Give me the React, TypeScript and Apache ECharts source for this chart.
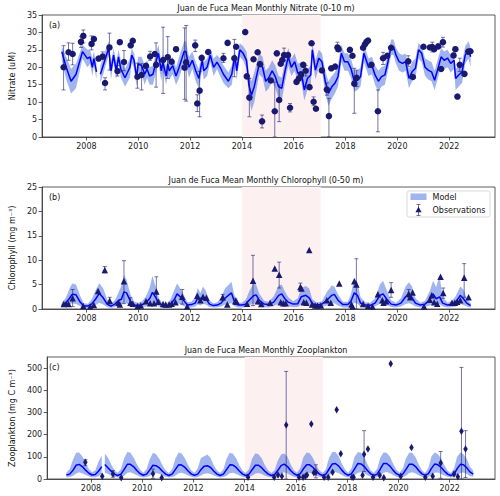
import React, { useEffect, useRef } from 'react';
import * as echarts from 'echarts';

const FONT = 'DejaVu Sans';
const BAND = 'rgba(65,105,225,0.5)';
const LINE = '#0000ff';
const OBS = '#191970';
const ERR = 'rgba(25,25,112,0.6)';
const PINK = '#fdf0f0';

// ---------------- Nitrate (panel a) ----------------
const nitYears = [
  2007.05, 2007.22, 2007.41, 2007.6, 2007.85,
  2008.04, 2008.14, 2008.23, 2008.29, 2008.39, 2008.46, 2008.54, 2008.67, 2008.86, 2008.95,
  2009.05, 2009.15, 2009.24, 2009.33, 2009.49, 2009.68, 2009.75, 2009.84, 2009.94,
  2010.0, 2010.13, 2010.25, 2010.34, 2010.44, 2010.57, 2010.7, 2010.78, 2010.89, 2010.95,
  2011.08, 2011.14, 2011.2, 2011.33, 2011.46, 2011.58, 2011.77, 2011.84, 2011.96,
  2012.09, 2012.22, 2012.34, 2012.47, 2012.53, 2012.66, 2012.78, 2012.91,
  2013.04, 2013.16, 2013.29, 2013.48, 2013.61, 2013.73, 2013.8, 2013.86, 2013.92,
  2014.05, 2014.18, 2014.27, 2014.37, 2014.48, 2014.67, 2014.8, 2014.92,
  2015.04, 2015.17, 2015.29, 2015.42, 2015.54, 2015.66, 2015.79, 2015.91,
  2016.04, 2016.16, 2016.29, 2016.41, 2016.53, 2016.66, 2016.72, 2016.84, 2016.97,
  2017.09, 2017.22, 2017.34, 2017.47, 2017.59, 2017.71, 2017.84, 2017.96,
  2018.09, 2018.21, 2018.34, 2018.46, 2018.58, 2018.71, 2018.89,
  2019.02, 2019.14, 2019.27, 2019.39, 2019.52, 2019.64, 2019.76, 2019.85, 2019.95,
  2020.07, 2020.2, 2020.32, 2020.45, 2020.57, 2020.7, 2020.82, 2020.94,
  2021.07, 2021.19, 2021.32, 2021.44, 2021.57, 2021.69, 2021.81, 2021.94,
  2022.06, 2022.19, 2022.25, 2022.37, 2022.5, 2022.62, 2022.75, 2022.83,
];
const nitModel = [
  24.5, 20, 16, 18, 24.5,
  22.5, 23, 20, 22.5, 18.7, null, 18, 21, 25.5, 19,
  23.5, 19, 23, 19.5, 17, 20, 23.5, 22, 17,
  21, 20.5, 18, 19.5, 17.5, 18, 22, 24, 19, 21.5,
  17.5, 21, 19, 20.5, 17.5, 20, 24.5, 24.5, 20,
  22, 19, 16.8, 22, 19, 20, 23.5, 20,
  21.5, 20, 18, 16, 18, 23.5, 19, 22, 25,
  24, 22, 15, 12, 14.5, 21, 20, 16,
  17, 19, 17.3, 14.4, 14, 18.7, 23, 20,
  21.6, 18.3, 18.7, 13.5, 16.8, 17.8, 25, 19.2, 22.6,
  21.6, 15.9, 12.5, 14.4, 15.4, 17.3, 24, 21.6,
  21.6, 19.7, 16, 16.3, 17.3, 24, 20,
  20.6, 17.8, 16, 17.3, 17.8, 21.6, 25.9, 25.9, 23.5,
  21.6, 21.1, 21.6, 16.8, 18.7, 19.7, 25, 24,
  20, 19.2, 18.7, 16.3, 19.7, 23, 22, 22.6,
  21.1, 22, 16.8, 17.8, 18.7, 23.5, 25, 23,
];
const nitLo = [
  22, 16.5, 12.5, 14, 22.5,
  20, 21, 17.5, 20.5, 16.5, null, 15.5, 18.5, 23.5, 16.5,
  21.5, 16.5, 21, 17, 14.5, 17, 21.5, 19.5, 14.5,
  18.5, 18, 15, 17, 15, 15, 19, 21.5, 16, 19,
  15, 18.5, 16.5, 18, 15, 17, 21.5, 21, 17,
  19.5, 16, 14, 19.5, 16.5, 17.5, 21.5, 17.5,
  19.5, 17.5, 15.5, 14, 15, 21, 16.5, 19.5, 23,
  22, 19.5, 11.5, 7.5, 10, 18, 17, 13,
  14, 16, 14, 11, 10.5, 15.5, 20.5, 17.5,
  19, 15.5, 16, 10.5, 13.5, 15, 22.5, 16.5, 20,
  19, 12.5, 9, 11, 12.5, 14.5, 21.5, 19,
  19, 17, 13, 13.5, 14.5, 21.5, 17.5,
  18, 15, 13, 14.5, 15, 19, 23.5, 23.5, 21,
  19, 18.5, 19, 14, 16, 17, 22.5, 21.5,
  17.5, 16.5, 16, 13.5, 17, 20.5, 19.5, 20,
  18.5, 19.5, 13.5, 14.5, 15.5, 21, 22.5, 20,
];
const nitHi = [
  26, 23, 19.5, 21, 26.5,
  25, 25, 22.5, 24.5, 21, null, 20.5, 23.5, 27.5, 21.5,
  25.5, 21.5, 25, 22, 19.5, 22.5, 25.5, 24, 19.5,
  23, 23, 20.5, 22, 20, 20.5, 24.5, 26.5, 21.5, 24,
  20, 23.5, 21.5, 23, 20, 23, 27.5, 27.5, 23,
  24.5, 21.5, 19.5, 24, 21.5, 22.5, 25.5, 22.5,
  23.5, 22.5, 20.5, 18.5, 20.5, 25.5, 21.5, 24.5, 27,
  26, 24.5, 18.5, 16, 18.5, 24, 23, 19,
  20, 22, 20.5, 17.5, 17, 21.5, 25.5, 22.5,
  24, 21, 21.5, 17, 19.5, 20.5, 27, 22, 25,
  24, 19, 16, 17.5, 18.5, 20.5, 26.5, 24,
  24, 22.5, 19, 19, 20, 26.5, 22.5,
  23, 20.5, 19, 20, 20.5, 24, 28, 28, 25.5,
  24, 23.5, 24, 19.5, 21.5, 22.5, 27, 26,
  22.5, 22, 21.5, 19, 22.5, 25.5, 24.5, 25,
  23.5, 24.5, 19.5, 20.5, 21.5, 26, 27.5, 25.5,
];
const nitObsYears = [
  2007.12, 2007.31, 2007.47, 2007.79, 2007.88, 2008.2, 2008.29, 2008.47, 2008.63, 2008.72, 2008.89,
  2009.2, 2009.29, 2009.45, 2009.71, 2009.79, 2009.97, 2010.13, 2010.3, 2010.46, 2010.64, 2010.69, 2010.96,
  2011.14, 2011.29, 2011.46, 2011.79, 2011.85, 2012.2, 2012.28, 2012.37, 2012.45, 2012.7,
  2013.29, 2013.45, 2013.71, 2013.78, 2014.13, 2014.19, 2014.29, 2014.45, 2014.61, 2014.7, 2014.78,
  2015.12, 2015.27, 2015.35, 2015.44, 2015.5, 2015.56, 2015.63, 2015.78, 2015.86,
  2016.11, 2016.2, 2016.29, 2016.37, 2016.46, 2016.61, 2016.69, 2016.77, 2016.86,
  2017.09, 2017.28, 2017.36, 2017.45, 2017.6, 2017.69, 2017.73,
  2018.17, 2018.27, 2018.34, 2018.43, 2018.68, 2018.75, 2018.81, 2018.87,
  2019.0, 2019.25, 2019.45, 2019.61, 2019.76, 2020.42, 2020.6,
  2021.01, 2021.26, 2021.35, 2021.42, 2021.58, 2021.69, 2021.76,
  2022.17, 2022.24, 2022.32, 2022.41, 2022.59, 2022.74, 2022.82,
];
const nitObs = [
  20.0, 24.3, 23.8, 27.3, 29.0, 26.7, 28.1, 22.5, 23.1, 15.5, 25.7,
  18.9, 27.2, 21.5, 26.3, 27.6, 17.3, 17.8, 20.4, 23.1, 23.8, 20.7, 22.1,
  22.9, 21.6, 25.2, 19.9, 21.4, 26.3, 9.6, 13.3, 22.7, 24.4,
  22.6, 27.0, 22.6, 25.9, 30.1, 17.4, 11.3, 22.3, 24.3, 20.9, 4.5,
  16.2, 7.4, 24.0, 10.6, 21.0, 22.1, 23.5, 23.5, 8.4,
  15.8, 16.8, 17.9, 20.7, 19.0, 14.3, 26.9, 10.1, 8.1,
  19.1, 13.6, 6.0, 19.7, 20.2, 25.7, 25.2,
  25.0, 23.3, 15.3, 17.0, 25.6, 26.6, 27.3, 27.7,
  20.7, 7.4, 22.6, 23.3, 25.6, 21.7, 17.2,
  25.9, 25.7, 25.8, 25.2, 26.0, 19.5, 27.2,
  23.4, 25.2, 11.6, 20.7, 18.1, 24.5, 24.6,
];
const nitObsLo = [
  13.5, 22.0, 20.7, 25.7, 27.0, 25.0, null, null, 22.3, 13.5, 19.2,
  17.5, null, 19.0, null, null, 14.0, 13.5, null, 22.0, null, 14.3, 12.5,
  16.8, null, null, 10.8, 10.3, 24.5, 7.3, 5.8, null, null,
  21.4, null, 17.3, null, null, null, 5.8, null, null, null, 2.6,
  null, 0, null, 4.4, null, null, 22, null, 7.2,
  null, null, null, null, 17.5, null, null, 9, null,
  null, 12, 0, null, null, 24.5, null,
  null, null, 6.8, 14.5, null, null, null, null,
  null, 1.5, 20.8, null, null, 20.3, null,
  null, null, 24.4, null, null, null, 25.8,
  null, null, null, 18.8, null, null, null,
];
const nitObsHi = [
  26.2, 27.0, 26.9, 28.8, 30.7, 29.0, null, null, 24.4, 17.0, 29.8,
  20.5, null, 24.8, null, null, 21.2, 21.0, null, 24.6, null, 27.0, 31.5,
  28.8, null, null, 31.3, 32.0, 27.8, 12.1, 18.8, null, null,
  24.0, null, 28.0, null, null, null, 16.8, null, null, null, 6.3,
  null, 15.8, null, 14.9, null, null, 25.5, null, 9.6,
  null, null, null, null, 20.5, null, null, 11.5, null,
  null, 15.5, 11.1, null, null, 27.2, null,
  null, null, 19.7, 19.2, null, null, null, null,
  null, 13.5, 24.3, null, null, 23.3, null,
  null, null, 27.2, null, null, null, 28.6,
  null, null, null, 22.6, null, null, null,
];

// ---------------- Chlorophyll (panel b) ----------------
const chlYears = [
  2007.05, 2007.2, 2007.35, 2007.45, 2007.6, 2007.75, 2007.9,
  2008.05, 2008.2, 2008.35, 2008.5, 2008.65, 2008.8, 2008.95,
  2009.1, 2009.25, 2009.35, 2009.45, 2009.55, 2009.7, 2009.85,
  2010.0, 2010.15, 2010.3, 2010.45, 2010.55, 2010.65, 2010.8, 2010.95,
  2011.1, 2011.25, 2011.4, 2011.5, 2011.6, 2011.75, 2011.9,
  2012.05, 2012.2, 2012.3, 2012.4, 2012.5, 2012.6, 2012.75, 2012.9,
  2013.05, 2013.2, 2013.35, 2013.5, 2013.6, 2013.7, 2013.85,
  2014.0, 2014.15, 2014.3, 2014.45, 2014.55, 2014.67, 2014.86,
  2015.04, 2015.23, 2015.42, 2015.54, 2015.66, 2015.79, 2015.98,
  2016.16, 2016.29, 2016.47, 2016.6, 2016.72, 2016.91,
  2017.09, 2017.28, 2017.47, 2017.57, 2017.71, 2017.9,
  2018.09, 2018.21, 2018.34, 2018.46, 2018.58, 2018.77, 2018.96,
  2019.14, 2019.33, 2019.45, 2019.58, 2019.76, 2019.95,
  2020.14, 2020.32, 2020.45, 2020.57, 2020.7, 2020.89,
  2021.07, 2021.26, 2021.38, 2021.5, 2021.63, 2021.75, 2021.94,
  2022.12, 2022.25, 2022.43, 2022.55, 2022.68, 2022.83,
];
const chlModel = [
  0.8, 1.2, 2.2, 3.0, 2.9, 1.5, 0.6,
  0.6, 1.0, 2.0, 3.2, 2.3, 1.0, 0.6,
  1.0, 1.8, 2.0, 3.5, 3.3, 1.6, 0.8,
  0.7, 0.9, 1.3, 2.2, 3.4, 2.6, 1.2, 0.6,
  0.6, 1.0, 2.0, 3.1, 2.6, 1.8, 0.8,
  0.9, 1.2, 2.3, 1.6, 2.5, 2.2, 1.0, 0.7,
  0.8, 1.2, 2.2, 2.9, 3.3, 1.7, 0.8,
  0.8, 1.0, 1.9, 2.7, 2.9, 1.8, 1.0,
  0.9, 1.4, 2.8, 3.1, 2.1, 1.4, 1.0,
  1.1, 2.5, 2.8, 2.3, 1.1, 0.8,
  1.0, 1.8, 2.8, 3.0, 1.8, 0.9,
  0.9, 1.6, 3.3, 2.8, 1.2, 0.8, 0.75,
  1.2, 2.8, 3.1, 2.1, 1.0, 0.8,
  1.2, 2.5, 3.1, 2.3, 1.2, 0.8,
  1.0, 1.9, 3.1, 2.1, 2.5, 1.2, 0.8,
  1.0, 1.4, 2.8, 2.1, 1.2, 0.7,
];
const chlLo = [
  0.3, 0.5, 0.9, 1.2, 1.0, 0.6, 0.2,
  0.2, 0.4, 0.8, 1.3, 0.9, 0.4, 0.2,
  0.4, 0.7, 0.8, 1.3, 1.2, 0.6, 0.3,
  0.3, 0.4, 0.5, 0.9, 1.3, 1.0, 0.5, 0.2,
  0.2, 0.4, 0.8, 1.2, 1.0, 0.6, 0.3,
  0.3, 0.5, 0.9, 0.7, 1.0, 0.9, 0.4, 0.3,
  0.3, 0.5, 0.9, 1.1, 1.2, 0.6, 0.3,
  0.3, 0.4, 0.8, 1.1, 1.1, 0.7, 0.4,
  0.3, 0.6, 1.1, 1.2, 0.8, 0.5, 0.4,
  0.4, 1.0, 1.1, 0.9, 0.4, 0.3,
  0.4, 0.7, 1.1, 1.2, 0.7, 0.3,
  0.3, 0.6, 1.3, 1.1, 0.5, 0.3, 0.3,
  0.5, 1.1, 1.2, 0.8, 0.4, 0.3,
  0.5, 1.0, 1.2, 0.9, 0.5, 0.3,
  0.4, 0.7, 1.2, 0.8, 1.0, 0.5, 0.3,
  0.4, 0.5, 1.1, 0.8, 0.5, 0.3,
];
const chlHi = [
  1.4, 2.2, 4.2, 5.2, 5.0, 2.8, 1.2,
  1.1, 1.9, 3.8, 5.3, 4.2, 2.0, 1.2,
  1.8, 3.5, 4.8, 7.0, 6.0, 3.0, 1.5,
  1.3, 1.6, 2.6, 4.5, 6.8, 5.0, 2.2, 1.1,
  1.1, 2.0, 4.0, 5.2, 4.4, 3.0, 1.4,
  1.5, 2.4, 4.3, 3.3, 4.6, 3.8, 1.8, 1.2,
  1.4, 2.3, 4.2, 5.0, 5.6, 3.0, 1.4,
  1.3, 1.9, 3.8, 5.2, 5.0, 3.2, 1.7,
  1.5, 2.6, 4.8, 5.0, 3.6, 2.4, 1.6,
  2.2, 4.3, 4.7, 4.2, 2.0, 1.3,
  1.6, 3.5, 4.8, 4.6, 3.0, 1.5,
  1.5, 3.0, 6.3, 5.5, 2.4, 1.4, 1.3,
  2.2, 5.0, 5.8, 4.0, 1.8, 1.3,
  2.2, 4.6, 5.5, 4.6, 2.2, 1.3,
  1.7, 3.8, 5.8, 4.5, 6.8, 2.4, 1.3,
  1.7, 2.6, 4.6, 4.0, 2.2, 1.2,
];
const chlObsYears = [
  2007.13, 2007.22, 2007.31, 2007.47, 2007.88, 2008.15, 2008.29, 2008.45, 2008.71, 2008.9,
  2009.24, 2009.29, 2009.45, 2009.7, 2009.79, 2009.98, 2010.1, 2010.3, 2010.46, 2010.61, 2010.7, 2010.78, 2010.96,
  2011.06, 2011.19, 2011.29, 2011.44, 2011.7, 2011.89, 2012.28, 2012.4, 2012.5, 2012.63,
  2013.26, 2013.44, 2013.75, 2013.8, 2014.2, 2014.43, 2014.62, 2014.75,
  2015.09, 2015.27, 2015.44, 2015.5, 2015.6, 2015.69, 2016.26, 2016.3, 2016.39, 2016.49, 2016.6, 2016.71, 2016.83, 2016.92,
  2017.05, 2017.28, 2017.43, 2017.76, 2018.23, 2018.27, 2018.34, 2018.42, 2018.68, 2018.87,
  2019.04, 2019.25, 2019.42, 2019.47, 2019.57, 2019.76, 2020.44, 2020.5, 2020.59,
  2021.03, 2021.25, 2021.33, 2021.42, 2021.54, 2021.67, 2021.77,
  2022.11, 2022.22, 2022.31, 2022.43, 2022.58, 2022.75,
];
const chlObs = [
  1.0, 1.1, 1.0, 2.2, 0.6, 0.5, 0.8, 3.7, 8.0, 1.7,
  1.3, 0.9, 5.7, 1.3, 1.1, 0.6, 0.7, 1.6, 1.2, 1.2, 3.6, 1.5, 1.0,
  0.9, 0.9, 1.1, 1.4, 2.5, 0.5, 2.7, 1.8, 2.5, 2.3,
  2.4, 0.9, 1.6, 1.5, 1.1, 5.8, 1.6, 1.0,
  1.3, 8.3, 7.0, 1.4, 1.2, 1.2, 4.5, 4.2, 1.4, 1.3, 12.1, 0.9, 0.7, 0.7,
  0.7, 1.8, 1.3, 5.2, 0.9, 0.5, 5.7, 5.0, 1.0, 0.6,
  0.5, 3.0, 1.8, 1.3, 1.6, 3.9, 3.1, 2.4, 3.4,
  0.5, 1.9, 2.8, 1.4, 1.1, 6.6, 3.3,
  1.3, 1.3, 1.5, 1.8, 6.4, 2.4,
];
const chlObsLo = [
  null, null, null, 0.5, null, null, null, null, 7.4, 1.0,
  null, null, 1.1, 0.9, null, null, null, null, null, null, 1.1, null, null,
  null, null, null, null, 1.0, null, null, null, null, null,
  1.8, null, 1.2, null, null, 0.7, null, null,
  null, null, 4.3, null, null, null, 3.7, null, null, null, null, null, null, null,
  null, null, null, null, null, null, null, 0, null, null,
  null, null, null, null, null, 2.4, 2.3, null, null,
  null, null, null, null, null, null, 2.2,
  null, null, null, null, 2.4, null,
];
const chlObsHi = [
  null, null, null, 4.0, null, null, null, null, 8.7, 2.4,
  null, null, 9.9, 2.3, null, null, null, null, null, null, 6.6, null, null,
  null, null, null, null, 4.0, null, null, null, null, null,
  3.0, null, 2.2, null, null, 11.0, null, null,
  null, null, 9.6, null, null, null, 5.3, null, null, null, null, null, null, null,
  null, null, null, null, null, null, null, 10.3, null, null,
  null, null, null, null, null, 5.4, 4.0, null, null,
  null, null, null, null, null, null, 4.3,
  null, null, null, null, 9.3, null,
];

// ---------------- Zooplankton (panel c) ----------------
const zooYears = [
  2007.04, 2007.17, 2007.29, 2007.42, 2007.54, 2007.67, 2007.79, 2007.92,
  2008.04, 2008.17, 2008.29, 2008.42, 2008.48, 2008.54, 2008.67, 2008.79, 2008.92,
  2009.04, 2009.17, 2009.29, 2009.42, 2009.54, 2009.67, 2009.79, 2009.92,
  2010.04, 2010.17, 2010.29, 2010.42, 2010.54, 2010.67, 2010.79, 2010.92,
  2011.04, 2011.17, 2011.29, 2011.42, 2011.54, 2011.67, 2011.79, 2011.92,
  2012.04, 2012.17, 2012.29, 2012.42, 2012.54, 2012.67, 2012.79, 2012.92,
  2013.04, 2013.17, 2013.29, 2013.42, 2013.54, 2013.67, 2013.79, 2013.92,
  2014.04, 2014.17, 2014.29, 2014.42, 2014.54, 2014.67, 2014.79, 2014.92,
  2015.04, 2015.17, 2015.29, 2015.42, 2015.54, 2015.67, 2015.79, 2015.92,
  2016.04, 2016.17, 2016.29, 2016.42, 2016.54, 2016.67, 2016.79, 2016.92,
  2017.04, 2017.17, 2017.29, 2017.42, 2017.54, 2017.67, 2017.79, 2017.92,
  2018.04, 2018.17, 2018.29, 2018.42, 2018.54, 2018.67, 2018.79, 2018.92,
  2019.04, 2019.17, 2019.29, 2019.42, 2019.54, 2019.67, 2019.79, 2019.92,
  2020.04, 2020.17, 2020.29, 2020.42, 2020.54, 2020.67, 2020.79, 2020.92,
  2021.04, 2021.17, 2021.29, 2021.42, 2021.54, 2021.67, 2021.79, 2021.92,
  2022.04, 2022.17, 2022.29, 2022.42, 2022.54, 2022.67, 2022.79, 2022.92,
];
const zooModel = [
  18, 22, 38, 62, 66, 55, 40, 26,
  18, 20, 35, 55, null, 65, 50, 35, 22,
  16, 22, 42, 66, 66, 55, 38, 24,
  17, 22, 40, 62, 60, 50, 35, 22,
  16, 22, 42, 64, 63, 52, 36, 22,
  17, 22, 42, 58, 60, 52, 36, 22,
  16, 22, 42, 64, 63, 52, 36, 22,
  16, 22, 42, 62, 62, 50, 35, 22,
  16, 20, 38, 60, 67, 56, 38, 24,
  17, 24, 46, 64, 64, 52, 36, 22,
  16, 22, 44, 68, 70, 58, 40, 24,
  17, 24, 46, 70, 68, 56, 38, 23,
  16, 22, 44, 70, 70, 58, 40, 24,
  17, 22, 42, 66, 67, 56, 38, 23,
  16, 24, 48, 68, 64, 52, 36, 22,
  16, 22, 46, 66, 64, 50, 32, 22,
];
const zooLo = [
  8, 9, 14, 25, 30, 25, 18, 12,
  8, 8, 12, 22, null, 28, 22, 15, 10,
  7, 9, 15, 28, 30, 24, 17, 10,
  7, 9, 14, 25, 27, 22, 15, 10,
  7, 9, 15, 26, 28, 23, 16, 10,
  7, 9, 16, 24, 26, 23, 16, 10,
  7, 9, 15, 26, 28, 23, 16, 10,
  7, 9, 15, 25, 27, 22, 15, 10,
  7, 8, 14, 24, 30, 25, 17, 10,
  7, 9, 17, 26, 28, 23, 16, 10,
  7, 9, 16, 28, 31, 26, 18, 10,
  7, 9, 17, 28, 30, 25, 17, 10,
  7, 9, 16, 28, 31, 26, 18, 10,
  7, 9, 15, 27, 30, 25, 17, 10,
  7, 9, 17, 28, 29, 23, 16, 10,
  7, 9, 17, 27, 29, 22, 14, 10,
];
const zooHi = [
  28, 45, 85, 118, 120, 100, 70, 45,
  30, 40, 78, 105, null, 115, 95, 65, 40,
  28, 45, 92, 122, 118, 96, 66, 42,
  28, 44, 88, 118, 112, 90, 62, 38,
  27, 44, 90, 120, 115, 92, 63, 38,
  28, 48, 95, 102, 110, 95, 62, 38,
  27, 44, 90, 118, 114, 92, 62, 38,
  27, 45, 92, 116, 112, 92, 62, 38,
  27, 40, 82, 110, 115, 100, 66, 40,
  28, 50, 98, 120, 116, 94, 62, 38,
  27, 45, 95, 122, 122, 102, 70, 42,
  28, 50, 100, 122, 118, 98, 66, 40,
  27, 46, 96, 120, 118, 100, 70, 42,
  28, 46, 92, 118, 118, 98, 66, 40,
  27, 50, 102, 120, 112, 92, 62, 38,
  27, 46, 100, 120, 112, 90, 55, 38,
];
const zooObsYears = [
  2007.78, 2008.44, 2008.86, 2009.18, 2010.42, 2010.76, 2014.13,
  2015.15, 2015.3, 2015.45, 2015.62, 2016.12, 2016.28, 2016.37, 2016.43, 2016.6, 2016.7, 2016.78,
  2017.1, 2017.26, 2017.43, 2017.59, 2017.75, 2018.19, 2018.25, 2018.6, 2018.66, 2018.81,
  2019.01, 2019.27, 2019.43, 2019.7, 2020.09, 2020.51, 2021.05, 2021.34, 2021.65,
  2022.17, 2022.32, 2022.46, 2022.62,
];
const zooObs = [
  75, 12, 22, 6, 24, 6, 8,
  8, 18, 12, 243, 8, 8, 12, 18, 248, 28, 30,
  8, 8, 30, 312, 114, 8, 8, 17, 112, 135,
  8, 17, 6, 520, 12, 142, 8, 12, 72,
  22, 10, 215, 135,
];
const zooObsLo = [
  60, null, 8, null, 3, null, null,
  null, null, null, 0, null, null, null, null, null, null, 5,
  null, null, null, null, null, null, null, null, 34, null,
  null, null, null, null, null, null, null, null, 3,
  null, null, 0, 7,
];
const zooObsHi = [
  87, null, 38, null, 45, null, null,
  null, null, null, 485, null, null, null, null, null, null, 64,
  null, null, null, null, null, null, null, null, 218, null,
  null, null, null, null, null, null, null, null, 124,
  null, null, 503, 218,
];

const xTicks = [2008, 2010, 2012, 2014, 2016, 2018, 2020, 2022];
const anomalyPeriod = [2014.0, 2017.05];
const titles = [
  'Juan de Fuca Mean Monthly Nitrate (0-10 m)',
  'Juan de Fuca Mean Monthly Chlorophyll (0-50 m)',
  'Juan de Fuca Mean Monthly Zooplankton',
];
const panelLabels = ['(a)', '(b)', '(c)'];
const yNames = ['Nitrate (uM)', 'Chlorophyll (mg m\u207B\u00B3)', 'Zooplankton (mg C m\u207B\u00B3)'];

const GRID_TOPS = [15, 187, 357];
const GRID_LEFT = 37;
const GRID_W = 458;
const GRID_H = 122;

function bandSeries(xs: number[], lo: (number | null)[], hi: (number | null)[], idx: number) {
  const segs: number[][] = [];
  let cur: number[] = [];
  xs.forEach((_, i) => {
    if (lo[i] == null || hi[i] == null) {
      if (cur.length) segs.push(cur);
      cur = [];
    } else cur.push(i);
  });
  if (cur.length) segs.push(cur);
  return {
    type: 'custom',
    xAxisIndex: idx,
    yAxisIndex: idx,
    silent: true,
    z: 2,
    clip: true,
    data: segs.map((s) => [xs[s[0]], lo[s[0]]]),
    encode: { x: 0, y: 1 },
    renderItem: (params: any, api: any) => {
      const s = segs[params.dataIndex];
      const top = s.map((i) => api.coord([xs[i], hi[i]]));
      const bot = s.slice().reverse().map((i) => api.coord([xs[i], lo[i]]));
      return { type: 'polygon', shape: { points: top.concat(bot) }, style: { fill: BAND } };
    },
  };
}

function spanSeries(idx: number) {
  return {
    type: 'custom',
    xAxisIndex: idx,
    yAxisIndex: idx,
    silent: true,
    z: 0,
    data: [[anomalyPeriod[0], 0, anomalyPeriod[1]]],
    encode: { x: 0, y: 1 },
    renderItem: (params: any, api: any) => {
      const cs = params.coordSys;
      const a = api.coord([api.value(0), 0]);
      const b = api.coord([api.value(2), 0]);
      return { type: 'rect', shape: { x: a[0], y: cs.y, width: b[0] - a[0], height: cs.height }, style: { fill: PINK } };
    },
  };
}

function lineSeries(xs: number[], ys: (number | null)[], idx: number) {
  return {
    type: 'line',
    xAxisIndex: idx,
    yAxisIndex: idx,
    silent: true,
    z: 3,
    showSymbol: false,
    connectNulls: false,
    lineStyle: { color: LINE, width: 1.5 },
    data: xs.map((x, i) => [x, ys[i] == null ? '-' : ys[i]]),
  };
}

function errSeries(xs: number[], lo: (number | null)[], hi: (number | null)[], idx: number) {
  const data: number[][] = [];
  xs.forEach((x, i) => {
    if (lo[i] != null && hi[i] != null) data.push([x, lo[i] as number, hi[i] as number]);
  });
  return {
    type: 'custom',
    xAxisIndex: idx,
    yAxisIndex: idx,
    silent: true,
    z: 4,
    clip: true,
    data,
    encode: { x: 0, y: [1, 2] },
    renderItem: (params: any, api: any) => {
      const x = api.value(0);
      const p1 = api.coord([x, api.value(2)]);
      const p2 = api.coord([x, api.value(1)]);
      const cw = 2;
      const st = { stroke: ERR, lineWidth: 1 };
      return {
        type: 'group',
        children: [
          { type: 'line', shape: { x1: p1[0], y1: p1[1], x2: p2[0], y2: p2[1] }, style: st },
          { type: 'line', shape: { x1: p1[0] - cw, y1: p1[1], x2: p1[0] + cw, y2: p1[1] }, style: st },
          { type: 'line', shape: { x1: p2[0] - cw, y1: p2[1], x2: p2[0] + cw, y2: p2[1] }, style: st },
        ],
      };
    },
  };
}

function obsSeries(xs: number[], ys: number[], idx: number, symbol: string, size: any) {
  return {
    type: 'scatter',
    xAxisIndex: idx,
    yAxisIndex: idx,
    silent: true,
    z: 5,
    symbol,
    symbolSize: size,
    itemStyle: { color: OBS, opacity: 1 },
    data: xs.map((x, i) => [x, ys[i]]),
  };
}

const axisCommon = {
  axisLine: { show: true, lineStyle: { color: '#333', width: 0.8 } },
  axisTick: { show: true, length: 3.5, inside: false, lineStyle: { color: '#333', width: 0.8 } },
  splitLine: { show: false },
};
const labelStyle = { color: '#222', fontSize: 8, fontFamily: FONT };

export default function App() {
  const ref = useRef<HTMLDivElement>(null);
  useEffect(() => {
    const chart = echarts.init(ref.current!, null, { renderer: 'svg' });
    const yRanges = [
      { min: 0, max: 35, ticks: [0, 5, 10, 15, 20, 25, 30, 35] },
      { min: 0, max: 25, ticks: [0, 5, 10, 15, 20, 25] },
      { min: 0, max: 550, ticks: [0, 100, 200, 300, 400, 500] },
    ];
    const nameGaps = [18, 18, 22];
    const grids = GRID_TOPS.map((t) => ({
      left: GRID_LEFT,
      top: t,
      width: GRID_W,
      height: GRID_H,
      show: true,
      borderColor: '#333',
      borderWidth: 0.8,
      backgroundColor: 'transparent',
    }));
    const xAxes = GRID_TOPS.map((_, i) => ({
      type: 'value',
      gridIndex: i,
      min: 2006.29,
      max: 2023.77,
      ...axisCommon,
      axisTick: { ...axisCommon.axisTick, customValues: xTicks },
      axisLabel: { ...labelStyle, margin: 5, customValues: xTicks, formatter: (v: number) => String(Math.round(v)) },
    }));
    const yAxes = yRanges.map((r, i) => ({
      type: 'value',
      gridIndex: i,
      min: r.min,
      max: r.max,
      ...axisCommon,
      axisTick: { ...axisCommon.axisTick, customValues: r.ticks },
      axisLabel: { ...labelStyle, margin: 5, customValues: r.ticks },
      name: yNames[i],
      nameLocation: 'middle',
      nameGap: nameGaps[i],
      nameTextStyle: { color: '#111', fontSize: 8, fontFamily: FONT },
    }));

    const graphics: any[] = [];
    GRID_TOPS.forEach((t, i) => {
      graphics.push({
        type: 'text',
        x: GRID_LEFT + GRID_W / 2,
        y: t - 6.5,
        style: { text: titles[i], fill: '#111', font: `8px "${FONT}"`, textAlign: 'center', textVerticalAlign: 'middle' },
        z: 100,
      });
      graphics.push({
        type: 'text',
        x: 49,
        y: t + 10,
        style: { text: panelLabels[i], fill: '#111', font: `8px "${FONT}"`, textAlign: 'left', textVerticalAlign: 'middle' },
        z: 100,
      });
    });
    // legend for panel (b)
    graphics.push(
      { type: 'rect', shape: { x: 407, y: 191, width: 83, height: 26, r: 2 }, style: { fill: 'rgba(255,255,255,0.85)', stroke: '#d0d0d0', lineWidth: 0.8 }, z: 100 },
      { type: 'rect', shape: { x: 410.5, y: 193.5, width: 16, height: 6.5 }, style: { fill: BAND }, z: 101 },
      { type: 'text', x: 432.5, y: 197, style: { text: 'Model', fill: '#111', font: `8px "${FONT}"`, textVerticalAlign: 'middle' }, z: 101 },
      { type: 'line', shape: { x1: 418.5, y1: 204.5, x2: 418.5, y2: 215.5 }, style: { stroke: ERR, lineWidth: 1 }, z: 101 },
      { type: 'line', shape: { x1: 416.5, y1: 204.5, x2: 420.5, y2: 204.5 }, style: { stroke: ERR, lineWidth: 1 }, z: 101 },
      { type: 'line', shape: { x1: 416.5, y1: 215.5, x2: 420.5, y2: 215.5 }, style: { stroke: ERR, lineWidth: 1 }, z: 101 },
      { type: 'polygon', shape: { points: [[418.5, 206.8], [421.6, 212.2], [415.4, 212.2]] }, style: { fill: OBS }, z: 102 },
      { type: 'text', x: 432.5, y: 210.5, style: { text: 'Observations', fill: '#111', font: `8px "${FONT}"`, textVerticalAlign: 'middle' }, z: 101 },
    );

    const series: any[] = [
      spanSeries(0), spanSeries(1), spanSeries(2),
      bandSeries(nitYears, nitLo, nitHi, 0),
      bandSeries(chlYears, chlLo, chlHi, 1),
      bandSeries(zooYears, zooLo, zooHi, 2),
      lineSeries(nitYears, nitModel, 0),
      lineSeries(chlYears, chlModel, 1),
      lineSeries(zooYears, zooModel, 2),
      errSeries(nitObsYears, nitObsLo, nitObsHi, 0),
      errSeries(chlObsYears, chlObsLo, chlObsHi, 1),
      errSeries(zooObsYears, zooObsLo, zooObsHi, 2),
      obsSeries(nitObsYears, nitObs, 0, 'circle', 6.5),
      obsSeries(chlObsYears, chlObs, 1, 'triangle', 6.5),
      obsSeries(zooObsYears, zooObs, 2, 'diamond', [4.5, 7.5]),
    ];

    chart.setOption({
      animation: false,
      backgroundColor: '#ffffff',
      textStyle: { fontFamily: FONT },
      grid: grids,
      xAxis: xAxes,
      yAxis: yAxes,
      graphic: graphics,
      series,
    });
    return () => chart.dispose();
  }, []);
  return <div ref={ref} style={{ position: 'absolute', left: 0, top: 0, width: 500, height: 496 }} />;
}
